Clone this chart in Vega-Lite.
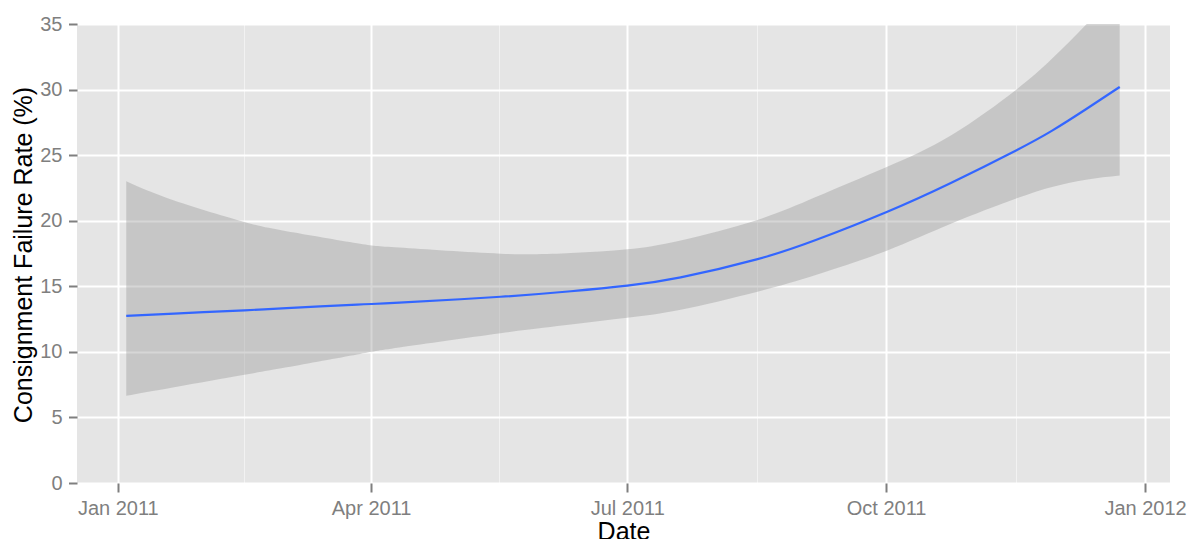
{
  "$schema": "https://vega.github.io/schema/vega-lite/v6.json",
  "width": 1093,
  "height": 459,
  "autosize": {"type": "none"},
  "padding": {"left": 77, "top": 24, "right": 21, "bottom": 56},
  "background": "white",
  "config": {
    "view": {"fill": "#E5E5E5", "stroke": null},
    "font": "Liberation Sans",
    "axis": {
      "domain": false,
      "labelColor": "#7F7F7F",
      "labelFontSize": 20,
      "labelFont": "Liberation Sans",
      "tickColor": "#7F7F7F",
      "tickWidth": 2,
      "titleFont": "Liberation Sans",
      "titleFontSize": 25,
      "titleFontWeight": "normal",
      "titleColor": "black",
      "labelOverlap": false,
      "labelFlush": false,
      "labelBound": false
    }
  },
  "data": {
    "values": [
      {"date": "2011-01-04", "fit": 12.74, "lo": 6.65, "hi": 23.0},
      {"date": "2011-01-21", "fit": 12.92, "lo": 7.3, "hi": 21.54},
      {"date": "2011-02-15", "fit": 13.17, "lo": 8.25, "hi": 19.9},
      {"date": "2011-03-02", "fit": 13.33, "lo": 8.82, "hi": 19.2},
      {"date": "2011-03-27", "fit": 13.6, "lo": 9.8, "hi": 18.28},
      {"date": "2011-04-11", "fit": 13.75, "lo": 10.33, "hi": 17.95},
      {"date": "2011-05-17", "fit": 14.2, "lo": 11.42, "hi": 17.49},
      {"date": "2011-06-11", "fit": 14.62, "lo": 12.08, "hi": 17.53},
      {"date": "2011-07-01", "fit": 15.05, "lo": 12.6, "hi": 17.82},
      {"date": "2011-07-20", "fit": 15.68, "lo": 13.22, "hi": 18.5},
      {"date": "2011-08-16", "fit": 17.05, "lo": 14.57, "hi": 20.04},
      {"date": "2011-09-06", "fit": 18.53, "lo": 15.86, "hi": 21.8},
      {"date": "2011-10-01", "fit": 20.65, "lo": 17.7, "hi": 24.08},
      {"date": "2011-10-24", "fit": 22.88, "lo": 19.77, "hi": 26.5},
      {"date": "2011-11-16", "fit": 25.34, "lo": 21.68, "hi": 29.95},
      {"date": "2011-11-29", "fit": 26.87, "lo": 22.58, "hi": 32.36},
      {"date": "2011-12-11", "fit": 28.5, "lo": 23.13, "hi": 34.94},
      {"date": "2011-12-23", "fit": 30.2, "lo": 23.45, "hi": 37.8}
    ]
  },
  "encoding": {
    "x": {
      "field": "date",
      "type": "temporal",
      "title": "Date",
      "scale": {
        "type": "utc",
        "domain": [
          {"year": 2010, "month": 12, "date": 17, "hours": 12, "utc": true},
          {"year": 2012, "month": 1, "date": 9, "hours": 21, "utc": true}
        ]
      },
      "axis": {
        "values": [
          {"year": 2011, "month": 1, "date": 1, "utc": true},
          {"year": 2011, "month": 2, "date": 15, "utc": true},
          {"year": 2011, "month": 4, "date": 1, "utc": true},
          {"year": 2011, "month": 5, "date": 16, "hours": 12, "utc": true},
          {"year": 2011, "month": 7, "date": 1, "utc": true},
          {"year": 2011, "month": 8, "date": 16, "utc": true},
          {"year": 2011, "month": 10, "date": 1, "utc": true},
          {"year": 2011, "month": 11, "date": 16, "utc": true},
          {"year": 2012, "month": 1, "date": 1, "utc": true}
        ],
        "labelExpr": "utcdate(datum.value) === 1 ? utcFormat(datum.value, '%b %Y') : ''",
        "gridColor": {"condition": {"test": "utcdate(datum.value) !== 1", "value": "#F2F2F2"}, "value": "#FFFFFF"},
        "gridWidth": {"condition": {"test": "utcdate(datum.value) !== 1", "value": 1}, "value": 2},
        "tickOpacity": {"condition": {"test": "utcdate(datum.value) !== 1", "value": 0}, "value": 1},
        "tickSize": 9,
        "labelPadding": 22,
        "labelBaseline": "alphabetic",
        "titleX": 546.5,
        "titleY": 56,
        "titleBaseline": "alphabetic",
        "titleAlign": "center",
        "titleAnchor": null
      }
    }
  },
  "layer": [
    {
      "mark": {"type": "area", "color": "#999999", "opacity": 0.4, "interpolate": "natural", "clip": true},
      "encoding": {
        "y": {
          "field": "lo",
          "type": "quantitative",
          "title": "Consignment Failure Rate (%)",
          "scale": {"domain": [0, 35], "nice": false, "zero": false},
          "axis": {
            "values": [0, 2.5, 5, 7.5, 10, 12.5, 15, 17.5, 20, 22.5, 25, 27.5, 30, 32.5, 35],
            "labelExpr": "datum.value % 5 === 0 ? datum.label : ''",
            "gridColor": {"condition": {"test": "datum.value % 5 !== 0", "value": "#F2F2F2"}, "value": "#FFFFFF"},
            "gridWidth": {"condition": {"test": "datum.value % 5 !== 0", "value": 1}, "value": 2},
            "tickOpacity": {"condition": {"test": "datum.value % 5 !== 0", "value": 0}, "value": 1},
            "tickSize": 8.5,
            "labelPadding": 6.5,
            "titleX": -45.3,
            "titleY": 230.5,
            "titleAngle": -90,
            "titleBaseline": "alphabetic",
            "titleAlign": "center",
            "titleAnchor": null
          }
        },
        "y2": {"field": "hi"}
      }
    },
    {
      "mark": {"type": "line", "color": "#3366FF", "strokeWidth": 2.2, "interpolate": "natural", "clip": true},
      "encoding": {
        "y": {
          "field": "fit",
          "type": "quantitative",
          "title": "Consignment Failure Rate (%)"
        }
      }
    }
  ]
}
